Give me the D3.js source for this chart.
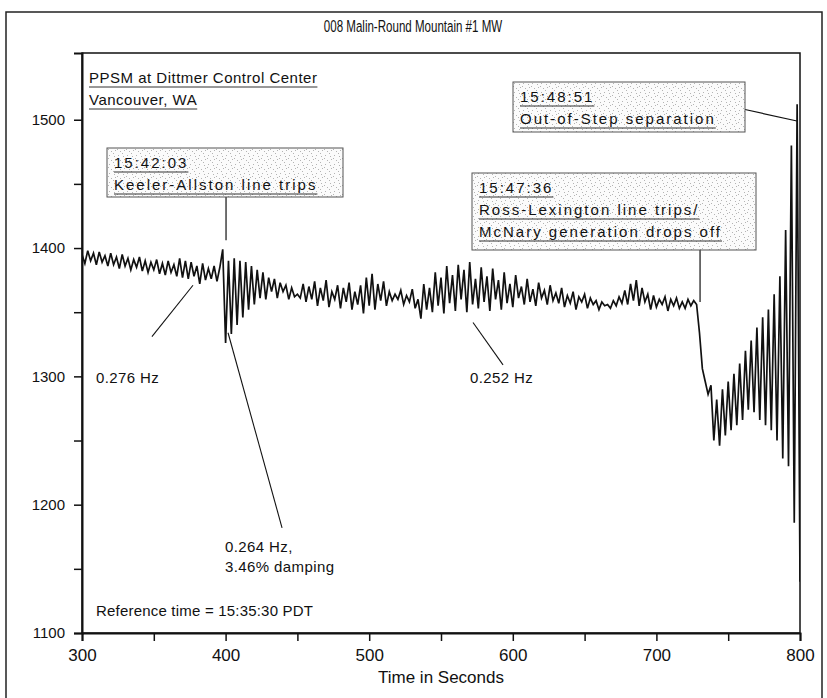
<!DOCTYPE html>
<html>
<head>
<meta charset="utf-8">
<script src="https://cdn.jsdelivr.net/npm/d3@7"></script>
<style>
  body { margin: 0; background: #fff; }
  text { font-family: "Liberation Sans", Arial, Helvetica, sans-serif; fill: #111; }
</style>
</head>
<body>
<svg id="chart" width="827" height="698"></svg>
<script>
const chartTitle = "008 Malin-Round Mountain #1 MW";
const xLabel = "Time in Seconds";
const xDomain = [300, 800];
const yDomain = [1100, 1552];
const xTicks = [300, 350, 400, 450, 500, 550, 600, 650, 700, 750, 800];
const yTicks = [1100, 1150, 1200, 1250, 1300, 1350, 1400, 1450, 1500];

// MW, one reading every 2 s starting at 300 s
const sampleStart = 300, sampleStep = 2;
const mwValues = [
  1395, 1388, 1398, 1390, 1396, 1387, 1397, 1389, 1394, 1386, // 300
  1396, 1387, 1393, 1384, 1395, 1386, 1392, 1383, 1391, 1385, // 320
  1393, 1382, 1390, 1381, 1389, 1383, 1391, 1380, 1388, 1379, // 340
  1390, 1381, 1387, 1378, 1392, 1377, 1390, 1376, 1389, 1378, // 360
  1386, 1372, 1388, 1375, 1384, 1376, 1386, 1374, 1385, 1399, // 380
  1326, 1390, 1333, 1392, 1340, 1390, 1346, 1389, 1352, 1386, // 400
  1356, 1383, 1361, 1381, 1360, 1377, 1366, 1376, 1361, 1373, // 420
  1366, 1371, 1360, 1369, 1362, 1364, 1361, 1372, 1358, 1370, // 440
  1360, 1374, 1355, 1369, 1359, 1375, 1354, 1366, 1360, 1371, // 460
  1353, 1369, 1358, 1373, 1352, 1366, 1356, 1371, 1349, 1377, // 480
  1355, 1380, 1352, 1372, 1359, 1374, 1355, 1366, 1359, 1364, // 500
  1360, 1367, 1356, 1363, 1358, 1368, 1353, 1360, 1345, 1372, // 520
  1352, 1369, 1350, 1381, 1355, 1377, 1349, 1386, 1357, 1379, // 540
  1351, 1387, 1360, 1383, 1350, 1389, 1356, 1376, 1353, 1385, // 560
  1358, 1378, 1351, 1384, 1360, 1375, 1352, 1381, 1357, 1372, // 580
  1354, 1379, 1361, 1370, 1356, 1376, 1358, 1368, 1355, 1373, // 600
  1361, 1367, 1356, 1371, 1359, 1365, 1357, 1369, 1354, 1363, // 620
  1357, 1366, 1352, 1362, 1358, 1364, 1353, 1361, 1356, 1359, // 640
  1352, 1358, 1355, 1356, 1353, 1359, 1355, 1362, 1357, 1367, // 660
  1356, 1372, 1359, 1375, 1355, 1369, 1358, 1364, 1352, 1363, // 680
  1354, 1360, 1356, 1362, 1351, 1360, 1355, 1361, 1353, 1358, // 700
  1353, 1360, 1355, 1359, 1356, 1334, 1306, 1296, 1286, 1293, // 720
  1250, 1282, 1246, 1290, 1254, 1296, 1258, 1302, 1262, 1310, // 740
  1266, 1320, 1274, 1328, 1272, 1338, 1266, 1346, 1262, 1352, // 760
  1258, 1364, 1250, 1378, 1236, 1414, 1230, 1480, 1186, 1512, // 780
  1140                                                        // 800
];

const siteNotes = ["PPSM at Dittmer Control Center", "Vancouver, WA"];
const refNote = "Reference time = 15:35:30 PDT";

// event boxes: box in px, leader goes to a point on the trace (time, MW)
const events = [
  { lines: ["15:42:03", "Keeler-Allston line trips"], box: [107, 148, 236, 49],
    from: "bottom", target: [400.3, 1406] },
  { lines: ["15:47:36", "Ross-Lexington line trips/", "McNary generation drops off"], box: [472, 173, 284, 77],
    from: "bottom", target: [730.4, 1358] },
  { lines: ["15:48:51", "Out-of-Step separation"], box: [513, 82, 232, 50],
    from: "right", target: [797.9, 1499] }
];

const hzNotes = [
  { lines: ["0.276 Hz"], pos: [96, 383], from: [377.3, 1371], to: [348.7, 1331] },
  { lines: ["0.264 Hz,", "3.46% damping"], pos: [225, 552], from: [401.7, 1334], to: [439.3, 1182] },
  { lines: ["0.252 Hz"], pos: [470, 383], from: [572.3, 1342], to: [593.2, 1309] }
];

const svg = d3.select("#chart");
const plot = {left: 82, right: 800, top: 53, bottom: 633};

const x = d3.scaleLinear().domain(xDomain).range([plot.left, plot.right]);
const y = d3.scaleLinear().domain(yDomain).range([plot.bottom, plot.top]);

// stipple fill for the event boxes
const stippleDots = [[1,2],[5,0],[7,6],[3,7],[0,5],[6,3]];
const pat = svg.append("defs").append("pattern")
  .attr("id", "stipple").attr("width", 9).attr("height", 9)
  .attr("patternUnits", "userSpaceOnUse");
pat.append("rect").attr("width", 9).attr("height", 9).attr("fill", "#fbfbfb");
pat.selectAll("rect.dot").data(stippleDots).enter().append("rect")
  .attr("class", "dot")
  .attr("x", d => d[0]).attr("y", d => d[1])
  .attr("width", 1).attr("height", 1).attr("fill", "#b4b4b4");

svg.append("clipPath").attr("id", "plotclip").append("rect")
  .attr("x", plot.left).attr("y", plot.top)
  .attr("width", plot.right - plot.left).attr("height", plot.bottom - plot.top);

// outer frame
svg.append("path")
  .attr("d", "M6,698V12H822V698")
  .attr("fill", "none").attr("stroke", "#222").attr("stroke-width", 1.5);

svg.append("text")
  .attr("transform", "translate(413,32) scale(0.68,1)")
  .attr("text-anchor", "middle")
  .style("font-size", "17px")
  .text(chartTitle);

// plot box
svg.append("rect")
  .attr("x", plot.left).attr("y", plot.top)
  .attr("width", plot.right - plot.left).attr("height", plot.bottom - plot.top)
  .attr("fill", "none").attr("stroke", "#111").attr("stroke-width", 1.5);

const yAxis = svg.append("g")
  .attr("transform", "translate(" + plot.left + ",0)")
  .call(d3.axisLeft(y).tickValues(yTicks).tickSize(8).tickPadding(9)
    .tickFormat(d => d % 100 === 0 ? d : ""));
const xAxis = svg.append("g")
  .attr("transform", "translate(0," + plot.bottom + ")")
  .call(d3.axisBottom(x).tickValues(xTicks).tickSize(8).tickPadding(8)
    .tickFormat(d => d % 100 === 0 ? d : ""));

[yAxis, xAxis].forEach(g => {
  g.select(".domain").attr("stroke", "#111").attr("stroke-width", 2);
  g.selectAll(".tick line").attr("stroke", "#111").attr("stroke-width", 1.5);
  g.selectAll(".tick text").attr("fill", "#111").style("font-family", "'Liberation Sans', Arial, sans-serif");
});
yAxis.selectAll(".tick text").style("font-size", "15px");
xAxis.selectAll(".tick text").style("font-size", "17px");

svg.append("text")
  .attr("x", (plot.left + plot.right) / 2).attr("y", 683)
  .attr("text-anchor", "middle")
  .style("font-size", "17px")
  .text(xLabel);

// the trace
const line = d3.line()
  .x((d, i) => x(sampleStart + i * sampleStep))
  .y(d => y(d));
svg.append("path")
  .datum(mwValues)
  .attr("clip-path", "url(#plotclip)")
  .attr("fill", "none")
  .attr("stroke", "#111")
  .attr("stroke-width", 1.7)
  .attr("stroke-linejoin", "miter")
  .attr("d", line);

function underlined(g, str, tx, ty, spacing) {
  const t = g.append("text")
    .attr("x", tx).attr("y", ty)
    .style("font-size", "15px").style("letter-spacing", spacing + "px")
    .text(str);
  const w = t.node().getComputedTextLength();
  g.append("line")
    .attr("x1", tx).attr("x2", tx + w)
    .attr("y1", ty + 4).attr("y2", ty + 4)
    .attr("stroke", "#333").attr("stroke-width", 1);
}

// site label, top left
const site = svg.append("g");
siteNotes.forEach((s, i) => underlined(site, s, 89, 83 + i * 22, 0.5));

// event boxes
events.forEach(ev => {
  const [bx, by, bw, bh] = ev.box;
  const g = svg.append("g");
  let sx, sy;
  if (ev.from === "bottom") { sx = x(ev.target[0]); sy = by + bh; }
  else { sx = bx + bw; sy = by + bh * 0.55; }
  g.append("line")
    .attr("x1", sx).attr("y1", sy)
    .attr("x2", x(ev.target[0])).attr("y2", y(ev.target[1]))
    .attr("stroke", "#111").attr("stroke-width", 1.2);
  g.append("rect")
    .attr("x", bx).attr("y", by).attr("width", bw).attr("height", bh)
    .attr("fill", "url(#stipple)")
    .attr("stroke", "#555").attr("stroke-width", 1);
  ev.lines.forEach((s, i) => underlined(g, s, bx + 7, by + 20 + i * 22, 2));
});

// oscillation notes
hzNotes.forEach(n => {
  svg.append("line")
    .attr("x1", x(n.from[0])).attr("y1", y(n.from[1]))
    .attr("x2", x(n.to[0])).attr("y2", y(n.to[1]))
    .attr("stroke", "#111").attr("stroke-width", 1.1);
  n.lines.forEach((s, i) => {
    svg.append("text")
      .attr("x", n.pos[0]).attr("y", n.pos[1] + i * 20)
      .style("font-size", "15px").style("letter-spacing", "0.4px")
      .text(s);
  });
});

svg.append("text")
  .attr("x", 96).attr("y", 616)
  .style("font-size", "15px").style("letter-spacing", "0.2px")
  .text(refNote);
</script>
</body>
</html>
